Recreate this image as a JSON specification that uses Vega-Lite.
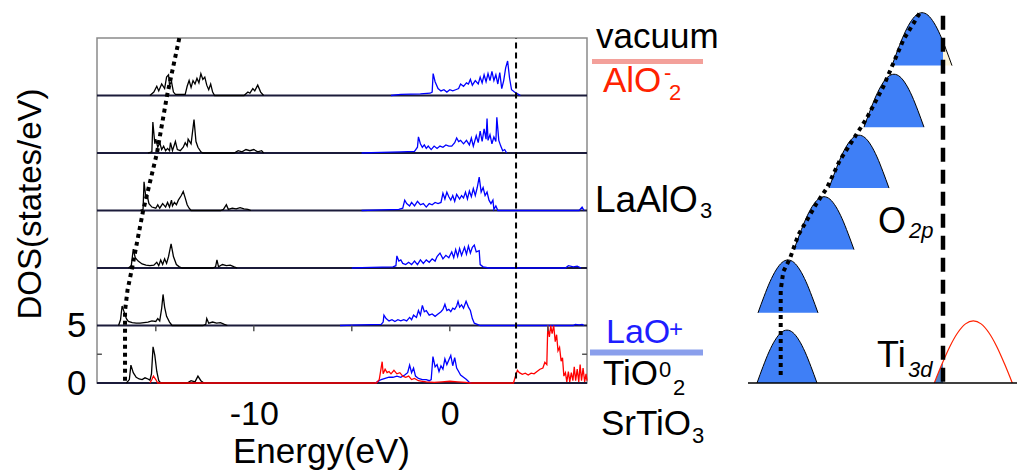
{
"$schema": "https://vega.github.io/schema/vega-lite/v6.json",
"width": 490, "height": 345,
"autosize": {"type": "none"},
"padding": {"left": 97, "top": 38, "right": 433, "bottom": 92},
"background": "white",
"config": {
 "view": {"stroke": "#8a8a8a", "strokeWidth": 1.5},
 "font": "Liberation Sans",
 "axis": {"grid": false, "domain": false, "ticks": false, "labelColor": "#000", "titleColor": "#000", "labelFont": "Liberation Sans", "titleFont": "Liberation Sans", "titleFontWeight": "normal", "labelFlush": false, "labelOverlap": false}
},
"datasets": {
 "dos": [
{"layer":5,"band":"O2s","E":-15.3,"DOS":25},{"layer":5,"band":"O2s","E":-15.1,"DOS":25.3},{"layer":5,"band":"O2s","E":-14.95,"DOS":25.8},{"layer":5,"band":"O2s","E":-14.85,"DOS":25.4},{"layer":5,"band":"O2s","E":-14.7,"DOS":26.0},{"layer":5,"band":"O2s","E":-14.55,"DOS":25.6},{"layer":5,"band":"O2s","E":-14.45,"DOS":26.6},{"layer":5,"band":"O2s","E":-14.35,"DOS":26.8},{"layer":5,"band":"O2s","E":-14.3,"DOS":25.9},{"layer":5,"band":"O2s","E":-14.2,"DOS":26.2},{"layer":5,"band":"O2s","E":-14.1,"DOS":25.3},{"layer":5,"band":"O2s","E":-14.0,"DOS":25.1},{"layer":5,"band":"O2s","E":-13.5,"DOS":25.1},{"layer":5,"band":"O2s","E":-13.4,"DOS":25.8},{"layer":5,"band":"O2s","E":-13.3,"DOS":26.3},{"layer":5,"band":"O2s","E":-13.2,"DOS":25.7},{"layer":5,"band":"O2s","E":-13.1,"DOS":26.3},{"layer":5,"band":"O2s","E":-13.0,"DOS":26.0},{"layer":5,"band":"O2s","E":-12.9,"DOS":26.5},{"layer":5,"band":"O2s","E":-12.8,"DOS":26.1},{"layer":5,"band":"O2s","E":-12.7,"DOS":26.9},{"layer":5,"band":"O2s","E":-12.6,"DOS":26.4},{"layer":5,"band":"O2s","E":-12.5,"DOS":26.6},{"layer":5,"band":"O2s","E":-12.4,"DOS":25.9},{"layer":5,"band":"O2s","E":-12.3,"DOS":25.5},{"layer":5,"band":"O2s","E":-12.2,"DOS":26.0},{"layer":5,"band":"O2s","E":-12.1,"DOS":25.3},{"layer":5,"band":"O2s","E":-12.0,"DOS":25},{"layer":5,"band":"O2s","E":-10.5,"DOS":25},{"layer":5,"band":"O2s","E":-10.3,"DOS":25.3},{"layer":5,"band":"O2s","E":-10.2,"DOS":25.2},{"layer":5,"band":"O2s","E":-10.05,"DOS":25.6},{"layer":5,"band":"O2s","E":-9.95,"DOS":25.4},{"layer":5,"band":"O2s","E":-9.8,"DOS":25.9},{"layer":5,"band":"O2s","E":-9.65,"DOS":25.3},{"layer":5,"band":"O2s","E":-9.5,"DOS":25},
{"layer":5,"band":"O2p","E":-3.0,"DOS":25},{"layer":5,"band":"O2p","E":-2.5,"DOS":25.1},{"layer":5,"band":"O2p","E":-1.5,"DOS":25.15},{"layer":5,"band":"O2p","E":-1.0,"DOS":25.2},{"layer":5,"band":"O2p","E":-0.9,"DOS":25.3},{"layer":5,"band":"O2p","E":-0.85,"DOS":26.9},{"layer":5,"band":"O2p","E":-0.75,"DOS":26.2},{"layer":5,"band":"O2p","E":-0.6,"DOS":25.6},{"layer":5,"band":"O2p","E":-0.45,"DOS":25.4},{"layer":5,"band":"O2p","E":-0.3,"DOS":25.5},{"layer":5,"band":"O2p","E":-0.15,"DOS":25.3},{"layer":5,"band":"O2p","E":0.0,"DOS":25.5},{"layer":5,"band":"O2p","E":0.15,"DOS":25.4},{"layer":5,"band":"O2p","E":0.3,"DOS":25.5},{"layer":5,"band":"O2p","E":0.45,"DOS":25.6},{"layer":5,"band":"O2p","E":0.55,"DOS":26.0},{"layer":5,"band":"O2p","E":0.7,"DOS":25.8},{"layer":5,"band":"O2p","E":0.85,"DOS":26.1},{"layer":5,"band":"O2p","E":0.95,"DOS":26.0},{"layer":5,"band":"O2p","E":1.05,"DOS":26.4},{"layer":5,"band":"O2p","E":1.15,"DOS":25.9},{"layer":5,"band":"O2p","E":1.3,"DOS":26.3},{"layer":5,"band":"O2p","E":1.45,"DOS":26.0},{"layer":5,"band":"O2p","E":1.55,"DOS":26.6},{"layer":5,"band":"O2p","E":1.65,"DOS":26.1},{"layer":5,"band":"O2p","E":1.75,"DOS":26.8},{"layer":5,"band":"O2p","E":1.85,"DOS":26.2},{"layer":5,"band":"O2p","E":1.95,"DOS":26.9},{"layer":5,"band":"O2p","E":2.05,"DOS":26.3},{"layer":5,"band":"O2p","E":2.15,"DOS":27.1},{"layer":5,"band":"O2p","E":2.25,"DOS":26.3},{"layer":5,"band":"O2p","E":2.35,"DOS":26.8},{"layer":5,"band":"O2p","E":2.45,"DOS":26.0},{"layer":5,"band":"O2p","E":2.55,"DOS":27.0},{"layer":5,"band":"O2p","E":2.65,"DOS":25.6},{"layer":5,"band":"O2p","E":2.75,"DOS":26.3},{"layer":5,"band":"O2p","E":2.85,"DOS":27.4},{"layer":5,"band":"O2p","E":2.95,"DOS":28.0},{"layer":5,"band":"O2p","E":3.05,"DOS":26.5},{"layer":5,"band":"O2p","E":3.15,"DOS":25.5},{"layer":5,"band":"O2p","E":3.3,"DOS":25.3},{"layer":5,"band":"O2p","E":3.5,"DOS":25.1},{"layer":5,"band":"O2p","E":3.6,"DOS":25},
{"layer":4,"band":"O2s","E":-15.4,"DOS":20},{"layer":4,"band":"O2s","E":-15.2,"DOS":20.1},{"layer":4,"band":"O2s","E":-15.15,"DOS":22.7},{"layer":4,"band":"O2s","E":-15.05,"DOS":20.8},{"layer":4,"band":"O2s","E":-15.0,"DOS":21.2},{"layer":4,"band":"O2s","E":-14.9,"DOS":20.5},{"layer":4,"band":"O2s","E":-14.8,"DOS":20.9},{"layer":4,"band":"O2s","E":-14.7,"DOS":20.3},{"layer":4,"band":"O2s","E":-14.6,"DOS":20.6},{"layer":4,"band":"O2s","E":-14.5,"DOS":20.2},{"layer":4,"band":"O2s","E":-14.4,"DOS":20.4},{"layer":4,"band":"O2s","E":-14.3,"DOS":20.2},{"layer":4,"band":"O2s","E":-14.25,"DOS":20.9},{"layer":4,"band":"O2s","E":-14.15,"DOS":20.2},{"layer":4,"band":"O2s","E":-14.0,"DOS":21.0},{"layer":4,"band":"O2s","E":-13.9,"DOS":20.3},{"layer":4,"band":"O2s","E":-13.75,"DOS":20.2},{"layer":4,"band":"O2s","E":-13.6,"DOS":20.5},{"layer":4,"band":"O2s","E":-13.5,"DOS":20.9},{"layer":4,"band":"O2s","E":-13.4,"DOS":20.6},{"layer":4,"band":"O2s","E":-13.35,"DOS":21.2},{"layer":4,"band":"O2s","E":-13.2,"DOS":20.8},{"layer":4,"band":"O2s","E":-13.05,"DOS":22.9},{"layer":4,"band":"O2s","E":-12.95,"DOS":21.0},{"layer":4,"band":"O2s","E":-12.85,"DOS":20.5},{"layer":4,"band":"O2s","E":-12.7,"DOS":20.1},{"layer":4,"band":"O2s","E":-12.6,"DOS":20},{"layer":4,"band":"O2s","E":-11.0,"DOS":20},{"layer":4,"band":"O2s","E":-10.8,"DOS":20.2},{"layer":4,"band":"O2s","E":-10.6,"DOS":20.1},{"layer":4,"band":"O2s","E":-10.4,"DOS":20.3},{"layer":4,"band":"O2s","E":-10.2,"DOS":20.2},{"layer":4,"band":"O2s","E":-10.0,"DOS":20.3},{"layer":4,"band":"O2s","E":-9.8,"DOS":20.1},{"layer":4,"band":"O2s","E":-9.6,"DOS":20.2},{"layer":4,"band":"O2s","E":-9.5,"DOS":20},
{"layer":4,"band":"O2p","E":-4.5,"DOS":20},{"layer":4,"band":"O2p","E":-3.5,"DOS":20.05},{"layer":4,"band":"O2p","E":-2.5,"DOS":20.1},{"layer":4,"band":"O2p","E":-1.8,"DOS":20.15},{"layer":4,"band":"O2p","E":-1.65,"DOS":20.5},{"layer":4,"band":"O2p","E":-1.6,"DOS":21.4},{"layer":4,"band":"O2p","E":-1.5,"DOS":20.8},{"layer":4,"band":"O2p","E":-1.4,"DOS":20.5},{"layer":4,"band":"O2p","E":-1.3,"DOS":20.7},{"layer":4,"band":"O2p","E":-1.2,"DOS":20.4},{"layer":4,"band":"O2p","E":-1.1,"DOS":20.6},{"layer":4,"band":"O2p","E":-0.95,"DOS":20.3},{"layer":4,"band":"O2p","E":-0.8,"DOS":20.6},{"layer":4,"band":"O2p","E":-0.65,"DOS":20.4},{"layer":4,"band":"O2p","E":-0.5,"DOS":20.6},{"layer":4,"band":"O2p","E":-0.35,"DOS":20.5},{"layer":4,"band":"O2p","E":-0.2,"DOS":20.7},{"layer":4,"band":"O2p","E":-0.05,"DOS":20.6},{"layer":4,"band":"O2p","E":0.1,"DOS":20.6},{"layer":4,"band":"O2p","E":0.25,"DOS":20.9},{"layer":4,"band":"O2p","E":0.35,"DOS":21.3},{"layer":4,"band":"O2p","E":0.45,"DOS":21.0},{"layer":4,"band":"O2p","E":0.55,"DOS":21.1},{"layer":4,"band":"O2p","E":0.7,"DOS":20.8},{"layer":4,"band":"O2p","E":0.85,"DOS":21.1},{"layer":4,"band":"O2p","E":1.0,"DOS":20.7},{"layer":4,"band":"O2p","E":1.1,"DOS":21.3},{"layer":4,"band":"O2p","E":1.2,"DOS":20.6},{"layer":4,"band":"O2p","E":1.35,"DOS":21.5},{"layer":4,"band":"O2p","E":1.45,"DOS":20.9},{"layer":4,"band":"O2p","E":1.55,"DOS":21.9},{"layer":4,"band":"O2p","E":1.65,"DOS":21.0},{"layer":4,"band":"O2p","E":1.75,"DOS":22.1},{"layer":4,"band":"O2p","E":1.85,"DOS":21.2},{"layer":4,"band":"O2p","E":1.9,"DOS":23.0},{"layer":4,"band":"O2p","E":1.95,"DOS":21.1},{"layer":4,"band":"O2p","E":2.05,"DOS":21.6},{"layer":4,"band":"O2p","E":2.15,"DOS":20.8},{"layer":4,"band":"O2p","E":2.25,"DOS":21.4},{"layer":4,"band":"O2p","E":2.35,"DOS":21.0},{"layer":4,"band":"O2p","E":2.4,"DOS":23.1},{"layer":4,"band":"O2p","E":2.5,"DOS":21.1},{"layer":4,"band":"O2p","E":2.6,"DOS":20.6},{"layer":4,"band":"O2p","E":2.7,"DOS":20.2},{"layer":4,"band":"O2p","E":2.8,"DOS":20.3},{"layer":4,"band":"O2p","E":2.9,"DOS":20},
{"layer":3,"band":"O2s","E":-15.8,"DOS":15},{"layer":3,"band":"O2s","E":-15.65,"DOS":15.1},{"layer":3,"band":"O2s","E":-15.6,"DOS":17.5},{"layer":3,"band":"O2s","E":-15.5,"DOS":16.0},{"layer":3,"band":"O2s","E":-15.45,"DOS":16.4},{"layer":3,"band":"O2s","E":-15.35,"DOS":15.6},{"layer":3,"band":"O2s","E":-15.2,"DOS":15.3},{"layer":3,"band":"O2s","E":-15.0,"DOS":15.2},{"layer":3,"band":"O2s","E":-14.9,"DOS":15.5},{"layer":3,"band":"O2s","E":-14.8,"DOS":15.2},{"layer":3,"band":"O2s","E":-14.65,"DOS":15.6},{"layer":3,"band":"O2s","E":-14.5,"DOS":15.3},{"layer":3,"band":"O2s","E":-14.4,"DOS":15.7},{"layer":3,"band":"O2s","E":-14.3,"DOS":15.3},{"layer":3,"band":"O2s","E":-14.2,"DOS":15.9},{"layer":3,"band":"O2s","E":-14.15,"DOS":15.4},{"layer":3,"band":"O2s","E":-14.05,"DOS":15.7},{"layer":3,"band":"O2s","E":-13.95,"DOS":15.5},{"layer":3,"band":"O2s","E":-13.85,"DOS":15.9},{"layer":3,"band":"O2s","E":-13.7,"DOS":16.3},{"layer":3,"band":"O2s","E":-13.6,"DOS":16.65},{"layer":3,"band":"O2s","E":-13.5,"DOS":16.1},{"layer":3,"band":"O2s","E":-13.4,"DOS":15.5},{"layer":3,"band":"O2s","E":-13.3,"DOS":15.2},{"layer":3,"band":"O2s","E":-13.2,"DOS":15},{"layer":3,"band":"O2s","E":-11.7,"DOS":15},{"layer":3,"band":"O2s","E":-11.55,"DOS":15.1},{"layer":3,"band":"O2s","E":-11.4,"DOS":15.5},{"layer":3,"band":"O2s","E":-11.3,"DOS":15.1},{"layer":3,"band":"O2s","E":-11.1,"DOS":15.2},{"layer":3,"band":"O2s","E":-10.9,"DOS":15.15},{"layer":3,"band":"O2s","E":-10.7,"DOS":15.25},{"layer":3,"band":"O2s","E":-10.5,"DOS":15.15},{"layer":3,"band":"O2s","E":-10.3,"DOS":15.1},{"layer":3,"band":"O2s","E":-10.15,"DOS":15},
{"layer":3,"band":"O2p","E":-4.5,"DOS":15},{"layer":3,"band":"O2p","E":-3.5,"DOS":15.05},{"layer":3,"band":"O2p","E":-2.6,"DOS":15.1},{"layer":3,"band":"O2p","E":-2.4,"DOS":15.2},{"layer":3,"band":"O2p","E":-2.3,"DOS":15.9},{"layer":3,"band":"O2p","E":-2.2,"DOS":15.6},{"layer":3,"band":"O2p","E":-2.05,"DOS":15.4},{"layer":3,"band":"O2p","E":-1.95,"DOS":15.7},{"layer":3,"band":"O2p","E":-1.8,"DOS":15.4},{"layer":3,"band":"O2p","E":-1.65,"DOS":15.8},{"layer":3,"band":"O2p","E":-1.5,"DOS":15.5},{"layer":3,"band":"O2p","E":-1.35,"DOS":15.6},{"layer":3,"band":"O2p","E":-1.2,"DOS":15.3},{"layer":3,"band":"O2p","E":-1.05,"DOS":15.6},{"layer":3,"band":"O2p","E":-0.9,"DOS":15.5},{"layer":3,"band":"O2p","E":-0.75,"DOS":15.7},{"layer":3,"band":"O2p","E":-0.6,"DOS":15.6},{"layer":3,"band":"O2p","E":-0.45,"DOS":15.7},{"layer":3,"band":"O2p","E":-0.35,"DOS":16.5},{"layer":3,"band":"O2p","E":-0.25,"DOS":16.0},{"layer":3,"band":"O2p","E":-0.15,"DOS":16.6},{"layer":3,"band":"O2p","E":-0.05,"DOS":16.2},{"layer":3,"band":"O2p","E":0.05,"DOS":15.9},{"layer":3,"band":"O2p","E":0.15,"DOS":16.3},{"layer":3,"band":"O2p","E":0.25,"DOS":15.8},{"layer":3,"band":"O2p","E":0.35,"DOS":16.4},{"layer":3,"band":"O2p","E":0.5,"DOS":16.0},{"layer":3,"band":"O2p","E":0.6,"DOS":16.3},{"layer":3,"band":"O2p","E":0.7,"DOS":16.1},{"layer":3,"band":"O2p","E":0.8,"DOS":16.6},{"layer":3,"band":"O2p","E":0.9,"DOS":16.0},{"layer":3,"band":"O2p","E":1.0,"DOS":16.7},{"layer":3,"band":"O2p","E":1.1,"DOS":16.2},{"layer":3,"band":"O2p","E":1.2,"DOS":16.9},{"layer":3,"band":"O2p","E":1.3,"DOS":16.3},{"layer":3,"band":"O2p","E":1.4,"DOS":17.0},{"layer":3,"band":"O2p","E":1.5,"DOS":17.9},{"layer":3,"band":"O2p","E":1.6,"DOS":16.6},{"layer":3,"band":"O2p","E":1.7,"DOS":17.0},{"layer":3,"band":"O2p","E":1.8,"DOS":16.3},{"layer":3,"band":"O2p","E":1.9,"DOS":16.6},{"layer":3,"band":"O2p","E":2.0,"DOS":15.9},{"layer":3,"band":"O2p","E":2.1,"DOS":15.6},{"layer":3,"band":"O2p","E":2.2,"DOS":15.9},{"layer":3,"band":"O2p","E":2.25,"DOS":15.1},{"layer":3,"band":"O2p","E":2.35,"DOS":15.4},{"layer":3,"band":"O2p","E":2.45,"DOS":15},{"layer":3,"band":"O2p","E":6.6,"DOS":15},{"layer":3,"band":"O2p","E":6.75,"DOS":15.3},{"layer":3,"band":"O2p","E":6.85,"DOS":15},
{"layer":2,"band":"O2s","E":-16.4,"DOS":10},{"layer":2,"band":"O2s","E":-16.25,"DOS":10.2},{"layer":2,"band":"O2s","E":-16.15,"DOS":11.65},{"layer":2,"band":"O2s","E":-16.05,"DOS":10.9},{"layer":2,"band":"O2s","E":-15.9,"DOS":10.6},{"layer":2,"band":"O2s","E":-15.7,"DOS":10.35},{"layer":2,"band":"O2s","E":-15.5,"DOS":10.25},{"layer":2,"band":"O2s","E":-15.3,"DOS":10.2},{"layer":2,"band":"O2s","E":-15.1,"DOS":10.25},{"layer":2,"band":"O2s","E":-14.95,"DOS":10.5},{"layer":2,"band":"O2s","E":-14.85,"DOS":10.2},{"layer":2,"band":"O2s","E":-14.75,"DOS":10.7},{"layer":2,"band":"O2s","E":-14.65,"DOS":10.3},{"layer":2,"band":"O2s","E":-14.55,"DOS":10.8},{"layer":2,"band":"O2s","E":-14.45,"DOS":10.4},{"layer":2,"band":"O2s","E":-14.35,"DOS":11.0},{"layer":2,"band":"O2s","E":-14.22,"DOS":12.1},{"layer":2,"band":"O2s","E":-14.1,"DOS":11.0},{"layer":2,"band":"O2s","E":-13.95,"DOS":10.3},{"layer":2,"band":"O2s","E":-13.8,"DOS":10.1},{"layer":2,"band":"O2s","E":-13.65,"DOS":10},{"layer":2,"band":"O2s","E":-12.1,"DOS":10},{"layer":2,"band":"O2s","E":-11.95,"DOS":10.1},{"layer":2,"band":"O2s","E":-11.88,"DOS":10.7},{"layer":2,"band":"O2s","E":-11.8,"DOS":10.1},{"layer":2,"band":"O2s","E":-11.6,"DOS":10.3},{"layer":2,"band":"O2s","E":-11.4,"DOS":10.2},{"layer":2,"band":"O2s","E":-11.2,"DOS":10.25},{"layer":2,"band":"O2s","E":-11.0,"DOS":10.1},{"layer":2,"band":"O2s","E":-10.85,"DOS":10},
{"layer":2,"band":"O2p","E":-5.0,"DOS":10},{"layer":2,"band":"O2p","E":-4.0,"DOS":10.05},{"layer":2,"band":"O2p","E":-2.9,"DOS":10.1},{"layer":2,"band":"O2p","E":-2.75,"DOS":10.2},{"layer":2,"band":"O2p","E":-2.7,"DOS":11.05},{"layer":2,"band":"O2p","E":-2.6,"DOS":10.6},{"layer":2,"band":"O2p","E":-2.5,"DOS":10.7},{"layer":2,"band":"O2p","E":-2.4,"DOS":10.4},{"layer":2,"band":"O2p","E":-2.25,"DOS":10.3},{"layer":2,"band":"O2p","E":-2.1,"DOS":10.5},{"layer":2,"band":"O2p","E":-1.95,"DOS":10.3},{"layer":2,"band":"O2p","E":-1.8,"DOS":10.6},{"layer":2,"band":"O2p","E":-1.65,"DOS":10.3},{"layer":2,"band":"O2p","E":-1.5,"DOS":10.7},{"layer":2,"band":"O2p","E":-1.35,"DOS":10.4},{"layer":2,"band":"O2p","E":-1.2,"DOS":10.7},{"layer":2,"band":"O2p","E":-1.05,"DOS":10.5},{"layer":2,"band":"O2p","E":-0.9,"DOS":10.8},{"layer":2,"band":"O2p","E":-0.75,"DOS":10.6},{"layer":2,"band":"O2p","E":-0.65,"DOS":11.0},{"layer":2,"band":"O2p","E":-0.5,"DOS":11.3},{"layer":2,"band":"O2p","E":-0.35,"DOS":10.8},{"layer":2,"band":"O2p","E":-0.2,"DOS":11.1},{"layer":2,"band":"O2p","E":-0.05,"DOS":10.9},{"layer":2,"band":"O2p","E":0.1,"DOS":11.4},{"layer":2,"band":"O2p","E":0.2,"DOS":10.9},{"layer":2,"band":"O2p","E":0.3,"DOS":11.6},{"layer":2,"band":"O2p","E":0.4,"DOS":11.0},{"layer":2,"band":"O2p","E":0.5,"DOS":11.7},{"layer":2,"band":"O2p","E":0.6,"DOS":11.1},{"layer":2,"band":"O2p","E":0.75,"DOS":11.8},{"layer":2,"band":"O2p","E":0.85,"DOS":11.2},{"layer":2,"band":"O2p","E":0.95,"DOS":11.9},{"layer":2,"band":"O2p","E":1.05,"DOS":11.3},{"layer":2,"band":"O2p","E":1.15,"DOS":11.8},{"layer":2,"band":"O2p","E":1.25,"DOS":12.0},{"layer":2,"band":"O2p","E":1.35,"DOS":11.4},{"layer":2,"band":"O2p","E":1.5,"DOS":11.5},{"layer":2,"band":"O2p","E":1.55,"DOS":10.3},{"layer":2,"band":"O2p","E":1.7,"DOS":10.1},{"layer":2,"band":"O2p","E":2.0,"DOS":10},{"layer":2,"band":"O2p","E":5.9,"DOS":10},{"layer":2,"band":"O2p","E":6.05,"DOS":10.2},{"layer":2,"band":"O2p","E":6.3,"DOS":10.1},{"layer":2,"band":"O2p","E":6.5,"DOS":10.15},{"layer":2,"band":"O2p","E":6.7,"DOS":10},
{"layer":1,"band":"O2s","E":-16.9,"DOS":5},{"layer":1,"band":"O2s","E":-16.8,"DOS":5.5},{"layer":1,"band":"O2s","E":-16.72,"DOS":6.7},{"layer":1,"band":"O2s","E":-16.6,"DOS":6.1},{"layer":1,"band":"O2s","E":-16.5,"DOS":5.6},{"layer":1,"band":"O2s","E":-16.4,"DOS":5.35},{"layer":1,"band":"O2s","E":-16.2,"DOS":5.25},{"layer":1,"band":"O2s","E":-16.0,"DOS":5.2},{"layer":1,"band":"O2s","E":-15.8,"DOS":5.2},{"layer":1,"band":"O2s","E":-15.6,"DOS":5.25},{"layer":1,"band":"O2s","E":-15.4,"DOS":5.3},{"layer":1,"band":"O2s","E":-15.2,"DOS":5.4},{"layer":1,"band":"O2s","E":-15.0,"DOS":5.35},{"layer":1,"band":"O2s","E":-14.9,"DOS":5.6},{"layer":1,"band":"O2s","E":-14.8,"DOS":5.4},{"layer":1,"band":"O2s","E":-14.7,"DOS":6.5},{"layer":1,"band":"O2s","E":-14.63,"DOS":7.7},{"layer":1,"band":"O2s","E":-14.55,"DOS":6.6},{"layer":1,"band":"O2s","E":-14.45,"DOS":5.8},{"layer":1,"band":"O2s","E":-14.3,"DOS":5.3},{"layer":1,"band":"O2s","E":-14.17,"DOS":5},{"layer":1,"band":"O2s","E":-12.6,"DOS":5},{"layer":1,"band":"O2s","E":-12.45,"DOS":5.1},{"layer":1,"band":"O2s","E":-12.4,"DOS":5.6},{"layer":1,"band":"O2s","E":-12.3,"DOS":5.2},{"layer":1,"band":"O2s","E":-12.1,"DOS":5.3},{"layer":1,"band":"O2s","E":-11.9,"DOS":5.2},{"layer":1,"band":"O2s","E":-11.7,"DOS":5.25},{"layer":1,"band":"O2s","E":-11.5,"DOS":5.1},{"layer":1,"band":"O2s","E":-11.35,"DOS":5},
{"layer":1,"band":"O2p","E":-5.6,"DOS":5},{"layer":1,"band":"O2p","E":-4.5,"DOS":5.05},{"layer":1,"band":"O2p","E":-3.5,"DOS":5.1},{"layer":1,"band":"O2p","E":-3.4,"DOS":5.3},{"layer":1,"band":"O2p","E":-3.36,"DOS":5.9},{"layer":1,"band":"O2p","E":-3.25,"DOS":5.6},{"layer":1,"band":"O2p","E":-3.1,"DOS":5.4},{"layer":1,"band":"O2p","E":-2.95,"DOS":5.5},{"layer":1,"band":"O2p","E":-2.8,"DOS":5.35},{"layer":1,"band":"O2p","E":-2.65,"DOS":5.5},{"layer":1,"band":"O2p","E":-2.5,"DOS":5.4},{"layer":1,"band":"O2p","E":-2.35,"DOS":5.5},{"layer":1,"band":"O2p","E":-2.2,"DOS":5.4},{"layer":1,"band":"O2p","E":-2.05,"DOS":5.7},{"layer":1,"band":"O2p","E":-1.95,"DOS":5.5},{"layer":1,"band":"O2p","E":-1.85,"DOS":5.9},{"layer":1,"band":"O2p","E":-1.7,"DOS":5.7},{"layer":1,"band":"O2p","E":-1.6,"DOS":6.3},{"layer":1,"band":"O2p","E":-1.5,"DOS":5.9},{"layer":1,"band":"O2p","E":-1.4,"DOS":6.75},{"layer":1,"band":"O2p","E":-1.3,"DOS":6.2},{"layer":1,"band":"O2p","E":-1.2,"DOS":6.3},{"layer":1,"band":"O2p","E":-1.05,"DOS":5.9},{"layer":1,"band":"O2p","E":-0.9,"DOS":6.0},{"layer":1,"band":"O2p","E":-0.75,"DOS":5.8},{"layer":1,"band":"O2p","E":-0.6,"DOS":6.0},{"layer":1,"band":"O2p","E":-0.45,"DOS":6.2},{"layer":1,"band":"O2p","E":-0.35,"DOS":6.4},{"layer":1,"band":"O2p","E":-0.25,"DOS":6.85},{"layer":1,"band":"O2p","E":-0.15,"DOS":6.3},{"layer":1,"band":"O2p","E":-0.05,"DOS":6.4},{"layer":1,"band":"O2p","E":0.05,"DOS":6.2},{"layer":1,"band":"O2p","E":0.15,"DOS":6.5},{"layer":1,"band":"O2p","E":0.25,"DOS":6.4},{"layer":1,"band":"O2p","E":0.35,"DOS":6.7},{"layer":1,"band":"O2p","E":0.42,"DOS":7.1},{"layer":1,"band":"O2p","E":0.5,"DOS":6.6},{"layer":1,"band":"O2p","E":0.6,"DOS":6.8},{"layer":1,"band":"O2p","E":0.7,"DOS":6.5},{"layer":1,"band":"O2p","E":0.83,"DOS":7.1},{"layer":1,"band":"O2p","E":0.95,"DOS":6.6},{"layer":1,"band":"O2p","E":1.05,"DOS":6.3},{"layer":1,"band":"O2p","E":1.15,"DOS":5.6},{"layer":1,"band":"O2p","E":1.25,"DOS":5.2},{"layer":1,"band":"O2p","E":1.4,"DOS":5.1},{"layer":1,"band":"O2p","E":1.55,"DOS":5},{"layer":1,"band":"O2p","E":6.3,"DOS":5},{"layer":1,"band":"O2p","E":6.4,"DOS":5.1},{"layer":1,"band":"O2p","E":6.6,"DOS":5.05},{"layer":1,"band":"O2p","E":6.75,"DOS":5.1},{"layer":1,"band":"O2p","E":6.85,"DOS":5},
{"layer":0,"band":"O2s","E":-16.5,"DOS":0},{"layer":0,"band":"O2s","E":-16.35,"DOS":0.3},{"layer":0,"band":"O2s","E":-16.27,"DOS":1.55},{"layer":0,"band":"O2s","E":-16.15,"DOS":0.9},{"layer":0,"band":"O2s","E":-16.0,"DOS":0.5},{"layer":0,"band":"O2s","E":-15.85,"DOS":0.35},{"layer":0,"band":"O2s","E":-15.7,"DOS":0.3},{"layer":0,"band":"O2s","E":-15.55,"DOS":0.45},{"layer":0,"band":"O2s","E":-15.4,"DOS":0.35},{"layer":0,"band":"O2s","E":-15.3,"DOS":0.25},{"layer":0,"band":"O2s","E":-15.22,"DOS":0.8},{"layer":0,"band":"O2s","E":-15.14,"DOS":3.15},{"layer":0,"band":"O2s","E":-15.05,"DOS":2.4},{"layer":0,"band":"O2s","E":-14.95,"DOS":1.0},{"layer":0,"band":"O2s","E":-14.85,"DOS":0.2},{"layer":0,"band":"O2s","E":-14.75,"DOS":0},{"layer":0,"band":"O2s","E":-13.4,"DOS":0},{"layer":0,"band":"O2s","E":-13.2,"DOS":0.2},{"layer":0,"band":"O2s","E":-13.0,"DOS":0.1},{"layer":0,"band":"O2s","E":-12.85,"DOS":0.6},{"layer":0,"band":"O2s","E":-12.7,"DOS":0.2},{"layer":0,"band":"O2s","E":-12.55,"DOS":0},
{"layer":0,"band":"O2p","E":-3.8,"DOS":0},{"layer":0,"band":"O2p","E":-3.7,"DOS":0.1},{"layer":0,"band":"O2p","E":-3.5,"DOS":0.3},{"layer":0,"band":"O2p","E":-3.3,"DOS":0.4},{"layer":0,"band":"O2p","E":-3.1,"DOS":0.5},{"layer":0,"band":"O2p","E":-2.9,"DOS":0.5},{"layer":0,"band":"O2p","E":-2.7,"DOS":0.6},{"layer":0,"band":"O2p","E":-2.5,"DOS":0.5},{"layer":0,"band":"O2p","E":-2.3,"DOS":0.7},{"layer":0,"band":"O2p","E":-2.15,"DOS":0.9},{"layer":0,"band":"O2p","E":-2.05,"DOS":1.55},{"layer":0,"band":"O2p","E":-1.95,"DOS":0.9},{"layer":0,"band":"O2p","E":-1.85,"DOS":1.3},{"layer":0,"band":"O2p","E":-1.75,"DOS":0.6},{"layer":0,"band":"O2p","E":-1.6,"DOS":0.4},{"layer":0,"band":"O2p","E":-1.4,"DOS":0.3},{"layer":0,"band":"O2p","E":-1.2,"DOS":0.3},{"layer":0,"band":"O2p","E":-1.05,"DOS":0.2},{"layer":0,"band":"O2p","E":-0.95,"DOS":0.3},{"layer":0,"band":"O2p","E":-0.86,"DOS":2.3},{"layer":0,"band":"O2p","E":-0.75,"DOS":1.4},{"layer":0,"band":"O2p","E":-0.65,"DOS":1.6},{"layer":0,"band":"O2p","E":-0.55,"DOS":1.0},{"layer":0,"band":"O2p","E":-0.45,"DOS":1.5},{"layer":0,"band":"O2p","E":-0.35,"DOS":1.2},{"layer":0,"band":"O2p","E":-0.25,"DOS":2.1},{"layer":0,"band":"O2p","E":-0.15,"DOS":1.6},{"layer":0,"band":"O2p","E":-0.05,"DOS":2.0},{"layer":0,"band":"O2p","E":0.05,"DOS":2.4},{"layer":0,"band":"O2p","E":0.15,"DOS":1.5},{"layer":0,"band":"O2p","E":0.25,"DOS":2.2},{"layer":0,"band":"O2p","E":0.35,"DOS":1.3},{"layer":0,"band":"O2p","E":0.45,"DOS":1.0},{"layer":0,"band":"O2p","E":0.55,"DOS":0.7},{"layer":0,"band":"O2p","E":0.7,"DOS":0.5},{"layer":0,"band":"O2p","E":0.85,"DOS":0.3},{"layer":0,"band":"O2p","E":1.0,"DOS":0.05},{"layer":0,"band":"O2p","E":1.1,"DOS":0},
{"layer":0,"band":"Ti3d","E":-15.3,"DOS":0},{"layer":0,"band":"Ti3d","E":-15.2,"DOS":0.3},{"layer":0,"band":"Ti3d","E":-15.12,"DOS":0.6},{"layer":0,"band":"Ti3d","E":-15.0,"DOS":0.3},{"layer":0,"band":"Ti3d","E":-14.9,"DOS":0},{"layer":0,"band":"Ti3d","E":-3.75,"DOS":0},{"layer":0,"band":"Ti3d","E":-3.6,"DOS":0.3},{"layer":0,"band":"Ti3d","E":-3.45,"DOS":1.85},{"layer":0,"band":"Ti3d","E":-3.4,"DOS":0.8},{"layer":0,"band":"Ti3d","E":-3.3,"DOS":1.2},{"layer":0,"band":"Ti3d","E":-3.2,"DOS":0.9},{"layer":0,"band":"Ti3d","E":-3.1,"DOS":1.0},{"layer":0,"band":"Ti3d","E":-3.0,"DOS":0.8},{"layer":0,"band":"Ti3d","E":-2.85,"DOS":1.1},{"layer":0,"band":"Ti3d","E":-2.7,"DOS":0.8},{"layer":0,"band":"Ti3d","E":-2.55,"DOS":0.9},{"layer":0,"band":"Ti3d","E":-2.4,"DOS":0.6},{"layer":0,"band":"Ti3d","E":-2.25,"DOS":0.5},{"layer":0,"band":"Ti3d","E":-2.1,"DOS":0.6},{"layer":0,"band":"Ti3d","E":-1.95,"DOS":0.3},{"layer":0,"band":"Ti3d","E":-1.8,"DOS":0.4},{"layer":0,"band":"Ti3d","E":-1.6,"DOS":0.2},{"layer":0,"band":"Ti3d","E":-1.4,"DOS":0.15},{"layer":0,"band":"Ti3d","E":-1.2,"DOS":0.1},{"layer":0,"band":"Ti3d","E":-0.8,"DOS":0.05},{"layer":0,"band":"Ti3d","E":-0.4,"DOS":0.1},{"layer":0,"band":"Ti3d","E":0.0,"DOS":0.15},{"layer":0,"band":"Ti3d","E":0.4,"DOS":0.1},{"layer":0,"band":"Ti3d","E":0.8,"DOS":0.05},{"layer":0,"band":"Ti3d","E":1.0,"DOS":0},{"layer":0,"band":"Ti3d","E":3.25,"DOS":0},{"layer":0,"band":"Ti3d","E":3.35,"DOS":0.6},{"layer":0,"band":"Ti3d","E":3.45,"DOS":1.1},{"layer":0,"band":"Ti3d","E":3.55,"DOS":0.9},{"layer":0,"band":"Ti3d","E":3.7,"DOS":0.75},{"layer":0,"band":"Ti3d","E":3.85,"DOS":0.85},{"layer":0,"band":"Ti3d","E":4.0,"DOS":0.7},{"layer":0,"band":"Ti3d","E":4.15,"DOS":0.85},{"layer":0,"band":"Ti3d","E":4.3,"DOS":0.8},{"layer":0,"band":"Ti3d","E":4.45,"DOS":1.0},{"layer":0,"band":"Ti3d","E":4.6,"DOS":1.2},{"layer":0,"band":"Ti3d","E":4.75,"DOS":1.3},{"layer":0,"band":"Ti3d","E":4.85,"DOS":1.8},{"layer":0,"band":"Ti3d","E":4.95,"DOS":1.6},{"layer":0,"band":"Ti3d","E":5.0,"DOS":5.0},{"layer":0,"band":"Ti3d","E":5.08,"DOS":4.0},{"layer":0,"band":"Ti3d","E":5.15,"DOS":5.0},{"layer":0,"band":"Ti3d","E":5.22,"DOS":4.3},{"layer":0,"band":"Ti3d","E":5.3,"DOS":5.0},{"layer":0,"band":"Ti3d","E":5.38,"DOS":3.6},{"layer":0,"band":"Ti3d","E":5.45,"DOS":4.2},{"layer":0,"band":"Ti3d","E":5.52,"DOS":2.8},{"layer":0,"band":"Ti3d","E":5.6,"DOS":3.1},{"layer":0,"band":"Ti3d","E":5.68,"DOS":1.9},{"layer":0,"band":"Ti3d","E":5.75,"DOS":2.2},{"layer":0,"band":"Ti3d","E":5.82,"DOS":0.6},{"layer":0,"band":"Ti3d","E":5.9,"DOS":0.9},{"layer":0,"band":"Ti3d","E":5.97,"DOS":0.1},{"layer":0,"band":"Ti3d","E":6.05,"DOS":1.0},{"layer":0,"band":"Ti3d","E":6.12,"DOS":0.1},{"layer":0,"band":"Ti3d","E":6.2,"DOS":0.9},{"layer":0,"band":"Ti3d","E":6.28,"DOS":0.2},{"layer":0,"band":"Ti3d","E":6.35,"DOS":1.4},{"layer":0,"band":"Ti3d","E":6.42,"DOS":0.2},{"layer":0,"band":"Ti3d","E":6.5,"DOS":1.2},{"layer":0,"band":"Ti3d","E":6.58,"DOS":0.1},{"layer":0,"band":"Ti3d","E":6.65,"DOS":1.6},{"layer":0,"band":"Ti3d","E":6.72,"DOS":0.2},{"layer":0,"band":"Ti3d","E":6.8,"DOS":1.3},{"layer":0,"band":"Ti3d","E":6.88,"DOS":0.1},{"layer":0,"band":"Ti3d","E":6.95,"DOS":0.8},{"layer":0,"band":"Ti3d","E":7.0,"DOS":0.2}
 ],
 "bands": [
{"bump":"1","fill":"occupied","E":15.674,"DOS":0,"base":0},{"bump":"1","fill":"occupied","E":15.98,"DOS":1.42,"base":0},{"bump":"1","fill":"occupied","E":16.286,"DOS":2.71,"base":0},{"bump":"1","fill":"occupied","E":16.592,"DOS":3.72,"base":0},{"bump":"1","fill":"occupied","E":16.898,"DOS":4.38,"base":0},{"bump":"1","fill":"occupied","E":17.204,"DOS":4.6,"base":0},{"bump":"1","fill":"occupied","E":17.51,"DOS":4.38,"base":0},{"bump":"1","fill":"occupied","E":17.816,"DOS":3.72,"base":0},{"bump":"1","fill":"occupied","E":18.122,"DOS":2.71,"base":0},{"bump":"1","fill":"occupied","E":18.428,"DOS":1.42,"base":0},{"bump":"1","fill":"occupied","E":18.734,"DOS":0,"base":0},
{"bump":"2","fill":"occupied","E":15.725,"DOS":6.1,"base":6.1},{"bump":"2","fill":"occupied","E":16.031,"DOS":7.52,"base":6.1},{"bump":"2","fill":"occupied","E":16.337,"DOS":8.81,"base":6.1},{"bump":"2","fill":"occupied","E":16.643,"DOS":9.82,"base":6.1},{"bump":"2","fill":"occupied","E":16.949,"DOS":10.48,"base":6.1},{"bump":"2","fill":"occupied","E":17.255,"DOS":10.7,"base":6.1},{"bump":"2","fill":"occupied","E":17.561,"DOS":10.48,"base":6.1},{"bump":"2","fill":"occupied","E":17.867,"DOS":9.82,"base":6.1},{"bump":"2","fill":"occupied","E":18.173,"DOS":8.81,"base":6.1},{"bump":"2","fill":"occupied","E":18.479,"DOS":7.52,"base":6.1},{"bump":"2","fill":"occupied","E":18.785,"DOS":6.1,"base":6.1},
{"bump":"3","fill":"occupied","E":17.562,"DOS":11.6,"base":11.6},{"bump":"3","fill":"occupied","E":17.868,"DOS":13.02,"base":11.6},{"bump":"3","fill":"occupied","E":18.174,"DOS":14.31,"base":11.6},{"bump":"3","fill":"occupied","E":18.48,"DOS":15.32,"base":11.6},{"bump":"3","fill":"occupied","E":18.786,"DOS":15.98,"base":11.6},{"bump":"3","fill":"occupied","E":19.092,"DOS":16.2,"base":11.6},{"bump":"3","fill":"occupied","E":19.398,"DOS":15.98,"base":11.6},{"bump":"3","fill":"occupied","E":19.704,"DOS":15.32,"base":11.6},{"bump":"3","fill":"occupied","E":20.01,"DOS":14.31,"base":11.6},{"bump":"3","fill":"occupied","E":20.316,"DOS":13.02,"base":11.6},{"bump":"3","fill":"occupied","E":20.622,"DOS":11.6,"base":11.6},
{"bump":"4","fill":"occupied","E":19.348,"DOS":16.95,"base":16.95},{"bump":"4","fill":"occupied","E":19.654,"DOS":18.37,"base":16.95},{"bump":"4","fill":"occupied","E":19.96,"DOS":19.66,"base":16.95},{"bump":"4","fill":"occupied","E":20.266,"DOS":20.67,"base":16.95},{"bump":"4","fill":"occupied","E":20.572,"DOS":21.33,"base":16.95},{"bump":"4","fill":"occupied","E":20.878,"DOS":21.55,"base":16.95},{"bump":"4","fill":"occupied","E":21.184,"DOS":21.33,"base":16.95},{"bump":"4","fill":"occupied","E":21.49,"DOS":20.67,"base":16.95},{"bump":"4","fill":"occupied","E":21.796,"DOS":19.66,"base":16.95},{"bump":"4","fill":"occupied","E":22.102,"DOS":18.37,"base":16.95},{"bump":"4","fill":"occupied","E":22.408,"DOS":16.95,"base":16.95},
{"bump":"5","fill":"occupied","E":21.133,"DOS":22.25,"base":22.25},{"bump":"5","fill":"occupied","E":21.439,"DOS":23.67,"base":22.25},{"bump":"5","fill":"occupied","E":21.745,"DOS":24.96,"base":22.25},{"bump":"5","fill":"occupied","E":22.051,"DOS":25.97,"base":22.25},{"bump":"5","fill":"occupied","E":22.357,"DOS":26.63,"base":22.25},{"bump":"5","fill":"occupied","E":22.663,"DOS":26.85,"base":22.25},{"bump":"5","fill":"occupied","E":22.969,"DOS":26.63,"base":22.25},{"bump":"5","fill":"occupied","E":23.275,"DOS":25.97,"base":22.25},{"bump":"5","fill":"occupied","E":23.581,"DOS":24.96,"base":22.25},{"bump":"5","fill":"occupied","E":23.887,"DOS":23.67,"base":22.25},{"bump":"5","fill":"occupied","E":24.193,"DOS":22.25,"base":22.25},
{"bump":"6","fill":"occupied","E":22.562,"DOS":27.6,"base":27.6},{"bump":"6","fill":"occupied","E":22.868,"DOS":29.02,"base":27.6},{"bump":"6","fill":"occupied","E":23.174,"DOS":30.31,"base":27.6},{"bump":"6","fill":"occupied","E":23.48,"DOS":31.32,"base":27.6},{"bump":"6","fill":"occupied","E":23.786,"DOS":31.98,"base":27.6},{"bump":"6","fill":"occupied","E":24.092,"DOS":32.2,"base":27.6},{"bump":"6","fill":"occupied","E":24.398,"DOS":31.98,"base":27.6},{"bump":"6","fill":"occupied","E":24.704,"DOS":31.32,"base":27.6},{"bump":"6","fill":"occupied","E":25.01,"DOS":30.31,"base":27.6},{"bump":"6","fill":"occupied","E":25.163,"DOS":29.69,"base":27.6},
{"bump":"6","fill":"empty","E":25.163,"DOS":29.69,"base":27.6},{"bump":"6","fill":"empty","E":25.316,"DOS":29.02,"base":27.6},{"bump":"6","fill":"empty","E":25.622,"DOS":27.6,"base":27.6},
{"bump":"Ti","fill":"Ti occupied","E":24.719,"DOS":0,"base":0},{"bump":"Ti","fill":"Ti occupied","E":25.117,"DOS":1.67,"base":0},{"bump":"Ti","fill":"Ti occupied","E":25.163,"DOS":1.85,"base":0}
 ],
 "ti": [
{"E":24.719,"DOS":0},{"E":25.117,"DOS":1.67},{"E":25.515,"DOS":3.18},{"E":25.913,"DOS":4.37},{"E":26.311,"DOS":5.14},{"E":26.709,"DOS":5.4},{"E":27.107,"DOS":5.14},{"E":27.505,"DOS":4.37},{"E":27.903,"DOS":3.18},{"E":28.301,"DOS":1.67},{"E":28.699,"DOS":0}
 ],
 "guides": [
{"path":"DOS panels","E":-16.57,"DOS":0.2},{"path":"DOS panels","E":-16.57,"DOS":6.3},{"path":"DOS panels","E":-16.44,"DOS":8.1},{"path":"DOS panels","E":-16.21,"DOS":10},{"path":"DOS panels","E":-15.65,"DOS":14.96},{"path":"DOS panels","E":-14.94,"DOS":20},{"path":"DOS panels","E":-14.43,"DOS":24.96},{"path":"DOS panels","E":-13.8,"DOS":30},
{"path":"scheme","E":16.883,"DOS":0.7},{"path":"scheme","E":16.883,"DOS":8.09},{"path":"scheme","E":17.015,"DOS":9.68},{"path":"scheme","E":17.357,"DOS":10.84},{"path":"scheme","E":17.781,"DOS":12.87},{"path":"scheme","E":18.719,"DOS":15.63},{"path":"scheme","E":19.23,"DOS":16.93},{"path":"scheme","E":19.908,"DOS":19.39},{"path":"scheme","E":20.673,"DOS":21.42},{"path":"scheme","E":21.27,"DOS":23.02},{"path":"scheme","E":22.117,"DOS":25.77},{"path":"scheme","E":22.628,"DOS":27.8},{"path":"scheme","E":23.138,"DOS":29.83},{"path":"scheme","E":23.99,"DOS":32.2}
 ],
 "labels": [
{"label":"vacuum","part":"main","text":"vacuum","E":7.459,"DOS":29.13},
{"label":"AlO2","part":"main","text":"AlO","E":7.816,"DOS":25.33},
{"label":"AlO2","part":"small","text":"-","E":10.929,"DOS":26.35},
{"label":"AlO2","part":"small","text":"2","E":11.184,"DOS":24.61},
{"label":"LaAlO3","part":"big","text":"LaAlO","E":7.41,"DOS":14.9},
{"label":"LaAlO3","part":"small","text":"3","E":12.76,"DOS":14.35},
{"label":"LaO","part":"main","text":"LaO","E":7.969,"DOS":3.45},
{"label":"LaO","part":"small","text":"+","E":11.184,"DOS":4.04},
{"label":"TiO2","part":"main","text":"TiO","E":7.816,"DOS":-0.17},
{"label":"TiO2","part":"small","text":"0","E":10.673,"DOS":0.52},
{"label":"TiO2","part":"small","text":"2","E":11.388,"DOS":-1.04},
{"label":"SrTiO3","part":"main","text":"SrTiO","E":7.714,"DOS":-4.52},
{"label":"SrTiO3","part":"small","text":"3","E":12.357,"DOS":-5.22},
{"label":"O2p","part":"main","text":"O","E":21.847,"DOS":13.04},
{"label":"O2p","part":"small","text":"2p","E":23.429,"DOS":12.61},
{"label":"Ti3d","part":"main","text":"Ti","E":21.796,"DOS":1.39},
{"label":"Ti3d","part":"small","text":"3d","E":23.378,"DOS":0.52}
 ]
},
"layer": [
 {
  "data": {"name": "bands"},
  "mark": {"type": "area", "interpolate": "monotone"},
  "encoding": {
   "x": {"field": "E", "type": "quantitative", "scale": {"domain": [-18, 7], "nice": false, "zero": false}},
   "y": {"field": "DOS", "type": "quantitative", "scale": {"domain": [0, 30], "nice": false, "zero": false}},
   "y2": {"field": "base"},
   "fill": {"field": "fill", "type": "nominal", "scale": {"domain": ["occupied", "empty", "Ti occupied"], "range": ["#3f7ff6", "#fdf6dc", "#5585c5"]}, "legend": null},
   "detail": {"field": "bump"}
  }
 },
 {
  "data": {"name": "bands"},
  "transform": [{"filter": "datum.fill == 'occupied' || (datum.fill == 'empty' && datum.E > 25.2)"}],
  "mark": {"type": "line", "interpolate": "monotone", "color": "#000000", "strokeWidth": 1},
  "encoding": {
   "x": {"field": "E", "type": "quantitative", "scale": {"domain": [-18, 7], "nice": false, "zero": false}},
   "y": {"field": "DOS", "type": "quantitative", "scale": {"domain": [0, 30], "nice": false, "zero": false}},
   "detail": {"field": "bump"}
  }
 },
 {
  "data": {"name": "ti"},
  "mark": {"type": "line", "interpolate": "monotone", "color": "#ff2200", "strokeWidth": 1.2},
  "encoding": {
   "x": {"field": "E", "type": "quantitative", "scale": {"domain": [-18, 7], "nice": false, "zero": false}},
   "y": {"field": "DOS", "type": "quantitative", "scale": {"domain": [0, 30], "nice": false, "zero": false}}
  }
 },
 {
  "data": {"values": [{"DOS": 0}, {"DOS": 5}, {"DOS": 10}, {"DOS": 15}, {"DOS": 20}, {"DOS": 25}]},
  "mark": {"type": "rule", "color": "#1b1b3a", "strokeWidth": 2},
  "encoding": {
   "y": {"field": "DOS", "type": "quantitative", "scale": {"domain": [0, 30], "nice": false, "zero": false}}
  }
 },
 {
  "data": {"name": "dos"},
  "mark": {"type": "line", "strokeWidth": 1.3},
  "encoding": {
   "x": {"field": "E", "type": "quantitative", "scale": {"domain": [-18, 7], "nice": false, "zero": false},
     "axis": {"values": [-10, 0], "labelFontSize": 34, "labelPadding": 14, "labelExpr": "datum.value < 0 ? '-' + abs(datum.value) : datum.label", "title": "Energy(eV)", "titleFontSize": 35, "titleX": 224, "titleY": 79, "titleBaseline": "alphabetic", "titleAlign": "center"}},
   "y": {"field": "DOS", "type": "quantitative", "scale": {"domain": [0, 30], "nice": false, "zero": false},
     "axis": {"values": [0, 5], "labelFontSize": 35, "labelPadding": 11, "title": "DOS(states/eV)", "titleFontSize": 33, "titleAngle": 270, "titleX": -57, "titleY": 165.5, "titleBaseline": "alphabetic", "titleAlign": "center"}},
   "color": {"field": "band", "type": "nominal", "scale": {"domain": ["O2s", "O2p", "Ti3d"], "range": ["#000000", "#0000ff", "#ff0000"]}, "legend": null},
   "detail": {"field": "layer"}
  }
 },
 {
  "data": {"values": [
   {"E": -15, "E2": -15, "DOS": 5, "DOS2": 4.5}, {"E": -10, "E2": -10, "DOS": 5, "DOS2": 4.5}, {"E": -5, "E2": -5, "DOS": 5, "DOS2": 4.5}, {"E": 0, "E2": 0, "DOS": 5, "DOS2": 4.5}, {"E": 5, "E2": 5, "DOS": 5, "DOS2": 4.5},
   {"E": -18, "E2": -17.75, "DOS": 2.5, "DOS2": 2.5}, {"E": 6.75, "E2": 7, "DOS": 2.5, "DOS2": 2.5}]},
  "mark": {"type": "rule", "color": "#555555", "strokeWidth": 1.5},
  "encoding": {
   "x": {"field": "E", "type": "quantitative", "scale": {"domain": [-18, 7], "nice": false, "zero": false}},
   "x2": {"field": "E2"},
   "y": {"field": "DOS", "type": "quantitative", "scale": {"domain": [0, 30], "nice": false, "zero": false}},
   "y2": {"field": "DOS2"}
  }
 },
 {
  "data": {"values": [{"E": 3.38, "DOS": 0.4, "DOS2": 30}]},
  "mark": {"type": "rule", "color": "#000000", "strokeWidth": 2, "strokeDash": [6, 4]},
  "encoding": {
   "x": {"field": "E", "type": "quantitative", "scale": {"domain": [-18, 7], "nice": false, "zero": false}},
   "y": {"field": "DOS", "type": "quantitative", "scale": {"domain": [0, 30], "nice": false, "zero": false}},
   "y2": {"field": "DOS2"}
  }
 },
 {
  "data": {"values": [{"E": 25.163, "DOS": 0.1, "DOS2": 32.4}]},
  "mark": {"type": "rule", "color": "#000000", "strokeWidth": 4.5, "strokeDash": [14, 8]},
  "encoding": {
   "x": {"field": "E", "type": "quantitative", "scale": {"domain": [-18, 7], "nice": false, "zero": false}},
   "y": {"field": "DOS", "type": "quantitative", "scale": {"domain": [0, 30], "nice": false, "zero": false}},
   "y2": {"field": "DOS2"}
  }
 },
 {
  "data": {"name": "guides"},
  "mark": {"type": "line", "color": "#000000", "strokeWidth": 4, "strokeDash": [4, 4], "strokeCap": "butt"},
  "encoding": {
   "x": {"field": "E", "type": "quantitative", "scale": {"domain": [-18, 7], "nice": false, "zero": false}},
   "y": {"field": "DOS", "type": "quantitative", "scale": {"domain": [0, 30], "nice": false, "zero": false}},
   "detail": {"field": "path"},
   "order": {"field": "DOS", "type": "quantitative"}
  }
 },
 {
  "data": {"values": [{"E": 15.214, "E2": 28.939, "DOS": 0}]},
  "mark": {"type": "rule", "color": "#000000", "strokeWidth": 1.5},
  "encoding": {
   "x": {"field": "E", "type": "quantitative", "scale": {"domain": [-18, 7], "nice": false, "zero": false}},
   "x2": {"field": "E2"},
   "y": {"field": "DOS", "type": "quantitative", "scale": {"domain": [0, 30], "nice": false, "zero": false}}
  }
 },
 {
  "data": {"values": [{"E": 7.255, "E2": 12.918, "DOS": 27.96}]},
  "mark": {"type": "rule", "color": "#f3a09a", "strokeWidth": 5},
  "encoding": {
   "x": {"field": "E", "type": "quantitative", "scale": {"domain": [-18, 7], "nice": false, "zero": false}},
   "x2": {"field": "E2"},
   "y": {"field": "DOS", "type": "quantitative", "scale": {"domain": [0, 30], "nice": false, "zero": false}}
  }
 },
 {
  "data": {"values": [{"E": 7.153, "E2": 12.918, "DOS": 2.65}]},
  "mark": {"type": "rule", "color": "#8a9fec", "strokeWidth": 6},
  "encoding": {
   "x": {"field": "E", "type": "quantitative", "scale": {"domain": [-18, 7], "nice": false, "zero": false}},
   "x2": {"field": "E2"},
   "y": {"field": "DOS", "type": "quantitative", "scale": {"domain": [0, 30], "nice": false, "zero": false}}
  }
 },
 {
  "data": {"name": "labels"},
  "transform": [{"filter": "datum.part == 'main' && (datum.label == 'vacuum' || datum.label == 'TiO2' || datum.label == 'SrTiO3')"}],
  "mark": {"type": "text", "align": "left", "baseline": "alphabetic", "fontSize": 35, "font": "Liberation Sans", "color": "#000000"},
  "encoding": {
   "x": {"field": "E", "type": "quantitative", "scale": {"domain": [-18, 7], "nice": false, "zero": false}},
   "y": {"field": "DOS", "type": "quantitative", "scale": {"domain": [0, 30], "nice": false, "zero": false}},
   "text": {"field": "text"}
  }
 },
 {
  "data": {"name": "labels"},
  "transform": [{"filter": "datum.part == 'big'"}],
  "mark": {"type": "text", "align": "left", "baseline": "alphabetic", "fontSize": 37, "font": "Liberation Sans", "color": "#000000"},
  "encoding": {
   "x": {"field": "E", "type": "quantitative", "scale": {"domain": [-18, 7], "nice": false, "zero": false}},
   "y": {"field": "DOS", "type": "quantitative", "scale": {"domain": [0, 30], "nice": false, "zero": false}},
   "text": {"field": "text"}
  }
 },
 {
  "data": {"name": "labels"},
  "transform": [{"filter": "datum.part == 'small' && (datum.label == 'LaAlO3' || datum.label == 'TiO2' || datum.label == 'SrTiO3')"}],
  "mark": {"type": "text", "align": "left", "baseline": "alphabetic", "fontSize": 22, "font": "Liberation Sans", "color": "#000000"},
  "encoding": {
   "x": {"field": "E", "type": "quantitative", "scale": {"domain": [-18, 7], "nice": false, "zero": false}},
   "y": {"field": "DOS", "type": "quantitative", "scale": {"domain": [0, 30], "nice": false, "zero": false}},
   "text": {"field": "text"}
  }
 },
 {
  "data": {"name": "labels"},
  "transform": [{"filter": "datum.part == 'main' && datum.label == 'AlO2'"}],
  "mark": {"type": "text", "align": "left", "baseline": "alphabetic", "fontSize": 35, "font": "Liberation Sans", "color": "#ff2200"},
  "encoding": {
   "x": {"field": "E", "type": "quantitative", "scale": {"domain": [-18, 7], "nice": false, "zero": false}},
   "y": {"field": "DOS", "type": "quantitative", "scale": {"domain": [0, 30], "nice": false, "zero": false}},
   "text": {"field": "text"}
  }
 },
 {
  "data": {"name": "labels"},
  "transform": [{"filter": "datum.part == 'small' && datum.label == 'AlO2'"}],
  "mark": {"type": "text", "align": "left", "baseline": "alphabetic", "fontSize": 22, "font": "Liberation Sans", "color": "#ff2200"},
  "encoding": {
   "x": {"field": "E", "type": "quantitative", "scale": {"domain": [-18, 7], "nice": false, "zero": false}},
   "y": {"field": "DOS", "type": "quantitative", "scale": {"domain": [0, 30], "nice": false, "zero": false}},
   "text": {"field": "text"}
  }
 },
 {
  "data": {"name": "labels"},
  "transform": [{"filter": "datum.part == 'main' && datum.label == 'LaO'"}],
  "mark": {"type": "text", "align": "left", "baseline": "alphabetic", "fontSize": 34, "font": "Liberation Sans", "color": "#1e1eff"},
  "encoding": {
   "x": {"field": "E", "type": "quantitative", "scale": {"domain": [-18, 7], "nice": false, "zero": false}},
   "y": {"field": "DOS", "type": "quantitative", "scale": {"domain": [0, 30], "nice": false, "zero": false}},
   "text": {"field": "text"}
  }
 },
 {
  "data": {"name": "labels"},
  "transform": [{"filter": "datum.part == 'small' && datum.label == 'LaO'"}],
  "mark": {"type": "text", "align": "left", "baseline": "alphabetic", "fontSize": 24, "font": "Liberation Sans", "color": "#1e1eff"},
  "encoding": {
   "x": {"field": "E", "type": "quantitative", "scale": {"domain": [-18, 7], "nice": false, "zero": false}},
   "y": {"field": "DOS", "type": "quantitative", "scale": {"domain": [0, 30], "nice": false, "zero": false}},
   "text": {"field": "text"}
  }
 },
 {
  "data": {"name": "labels"},
  "transform": [{"filter": "datum.part == 'main' && (datum.label == 'O2p' || datum.label == 'Ti3d')"}],
  "mark": {"type": "text", "align": "left", "baseline": "alphabetic", "fontSize": 36, "font": "Liberation Sans", "color": "#000000"},
  "encoding": {
   "x": {"field": "E", "type": "quantitative", "scale": {"domain": [-18, 7], "nice": false, "zero": false}},
   "y": {"field": "DOS", "type": "quantitative", "scale": {"domain": [0, 30], "nice": false, "zero": false}},
   "text": {"field": "text"}
  }
 },
 {
  "data": {"name": "labels"},
  "transform": [{"filter": "datum.part == 'small' && (datum.label == 'O2p' || datum.label == 'Ti3d')"}],
  "mark": {"type": "text", "align": "left", "baseline": "alphabetic", "fontSize": 22, "fontStyle": "italic", "font": "Liberation Sans", "color": "#000000"},
  "encoding": {
   "x": {"field": "E", "type": "quantitative", "scale": {"domain": [-18, 7], "nice": false, "zero": false}},
   "y": {"field": "DOS", "type": "quantitative", "scale": {"domain": [0, 30], "nice": false, "zero": false}},
   "text": {"field": "text"}
  }
 }
]
}
